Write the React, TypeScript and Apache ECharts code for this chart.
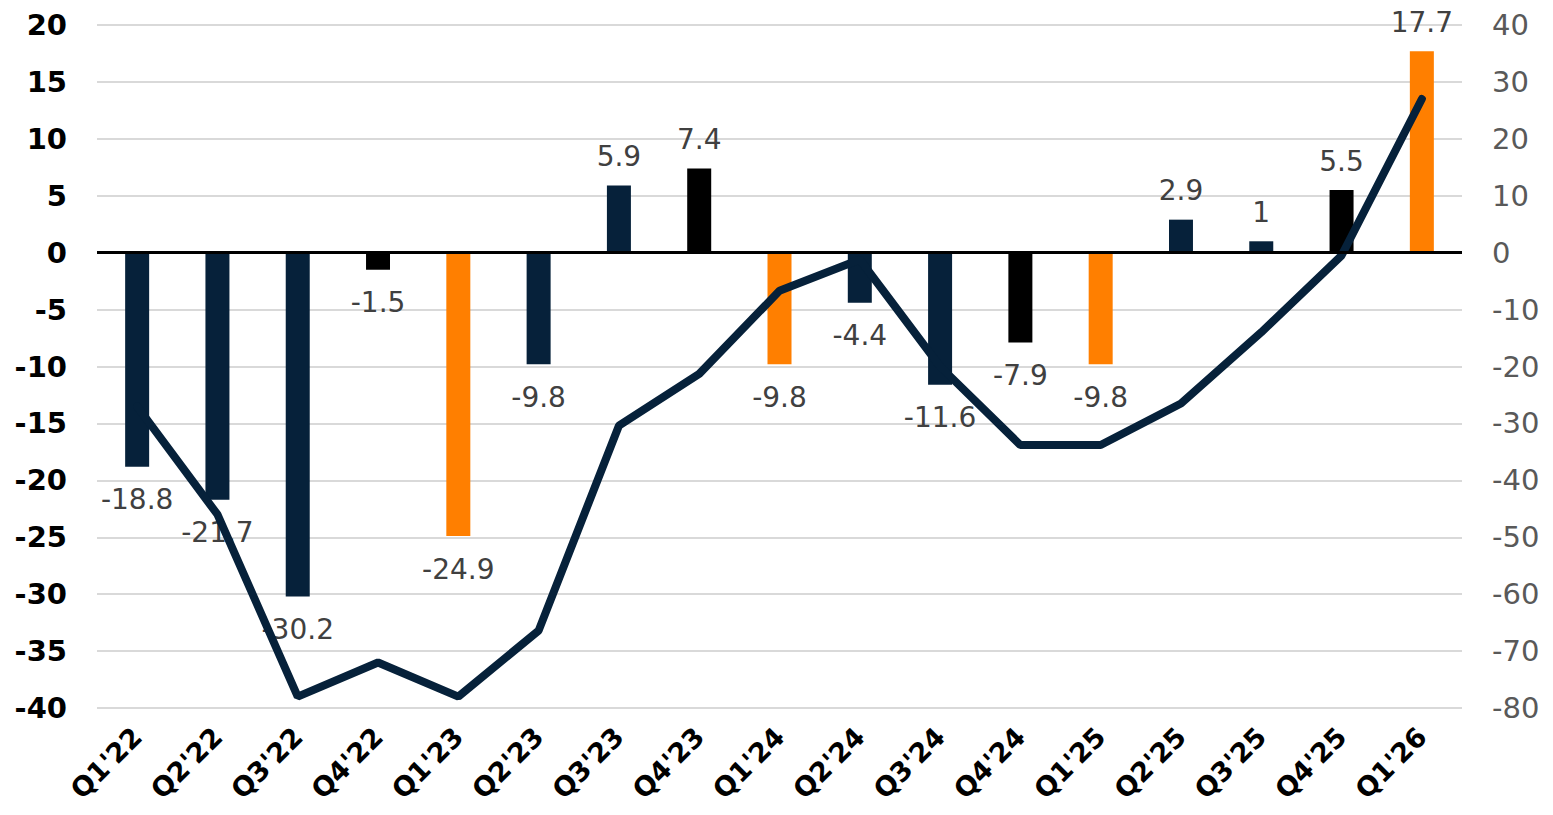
import React, { useEffect, useRef } from "react";
import * as echarts from "echarts";

const categories = ["Q1'22", "Q2'22", "Q3'22", "Q4'22", "Q1'23", "Q2'23", "Q3'23", "Q4'23", "Q1'24", "Q2'24", "Q3'24", "Q4'24", "Q1'25", "Q2'25", "Q3'25", "Q4'25", "Q1'26"];
const barValues = [-18.8, -21.7, -30.2, -1.5, -24.9, -9.8, 5.9, 7.4, -9.8, -4.4, -11.6, -7.9, -9.8, 2.9, 1, 5.5, 17.7];
const lineValues = [-27, -46, -78, -72, -78, -66.4, -30.4, -21.3, -6.7, -1.2, -20, -33.8, -33.8, -26.5, -14, -0.5, 27];
const barColors = ["#06213a", "#06213a", "#06213a", "#000000", "#ff7f00", "#06213a", "#06213a", "#000000", "#ff7f00", "#06213a", "#06213a", "#000000", "#ff7f00", "#06213a", "#06213a", "#000000", "#ff7f00"];

const FONT = "'DejaVu Sans', sans-serif";

export default function App() {
  const ref = useRef<HTMLDivElement>(null);
  useEffect(() => {
    if (!ref.current) return;
    const chart = echarts.init(ref.current, null, { renderer: "svg" });
    chart.setOption({
      animation: false,
      backgroundColor: "#ffffff",
      grid: { left: 97, right: 91, top: 25, bottom: 107, containLabel: false },
      xAxis: {
        type: "category",
        data: categories,
        axisLine: { show: false, onZero: false },
        axisTick: { show: false },
        axisLabel: {
          rotate: 45,
          interval: 0,
          margin: 24,
          color: "#000",
          fontFamily: FONT,
          fontWeight: "bold",
          fontSize: 27,
        },
      },
      yAxis: [
        {
          type: "value",
          min: -40,
          max: 20,
          interval: 5,
          axisLine: { show: false },
          axisTick: { show: false },
          splitLine: { lineStyle: { color: "#d9d9d9", width: 2 } },
          axisLabel: { margin: 30, color: "#000", fontFamily: FONT, fontWeight: "bold", fontSize: 29 },
        },
        {
          type: "value",
          min: -80,
          max: 40,
          interval: 10,
          axisLine: { show: false },
          axisTick: { show: false },
          splitLine: { show: false },
          axisLabel: { margin: 30, color: "#595959", fontFamily: FONT, fontSize: 29 },
        },
      ],
      series: [
        {
          type: "bar",
          yAxisIndex: 0,
          barWidth: 24,
          z: 2,
          data: barValues.map((v, i) => ({
            value: v,
            itemStyle: { color: barColors[i] },
            label: {
              show: true,
              position: v < 0 ? "bottom" : "top",
              distance: v < 0 ? 19 : 15,
              color: "#404040",
              fontFamily: FONT,
              fontSize: 28,
            },
          })),
          markLine: {
            silent: true,
            symbol: ["none", "none"],
            label: { show: false },
            lineStyle: { color: "#000", width: 3, type: "solid" },
            data: [{ yAxis: 0 }],
          },
        },
        {
          type: "line",
          yAxisIndex: 1,
          z: 3,
          data: lineValues,
          symbol: "none",
          lineStyle: { color: "#06213a", width: 8, cap: "round" },
          itemStyle: { color: "#06213a" },
        },
      ],
    });
    return () => chart.dispose();
  }, []);
  return <div ref={ref} style={{ position: "fixed", left: 0, top: 0, width: 1553, height: 815 }} />;
}
